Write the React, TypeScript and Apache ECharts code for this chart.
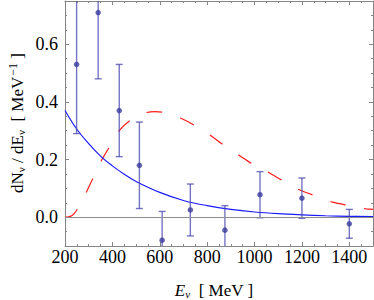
import React, { useEffect, useRef } from "react";
import * as echarts from "echarts";

const xMajor = [200, 400, 600, 800, 1000, 1200, 1400];
const xMinor = [250, 300, 350, 450, 500, 550, 650, 700, 750, 850, 900, 950, 1050, 1100, 1150, 1250, 1300, 1350, 1450];
const yMajor = [0, 0.2, 0.4, 0.6];
const yMinor = [-0.05, 0.05, 0.1, 0.15, 0.25, 0.3, 0.35, 0.45, 0.5, 0.55, 0.65, 0.7];

const dataE = [249, 340, 429, 514, 610, 729, 875, 1023, 1200, 1400];
const dataY = [0.53, 0.71, 0.37, 0.18, -0.08, 0.025, -0.045, 0.078, 0.066, -0.023];
const dataErr = [0.24, 0.23, 0.16, 0.15, 0.1, 0.09, 0.085, 0.08, 0.07, 0.05];

const blueE = [200, 250, 300, 350, 400, 450, 500, 600, 700, 800, 900, 1000, 1100, 1200, 1300, 1400, 1500];
const blueY = [0.37, 0.305, 0.255, 0.212, 0.178, 0.149, 0.124, 0.086, 0.058, 0.04, 0.027, 0.018, 0.012, 0.008, 0.005, 0.003, 0.002];

const redE = [200, 215, 228, 240, 250, 288, 317, 352, 385, 429, 474, 530, 579, 630, 687, 744, 815, 867, 933, 990, 1049, 1119, 1189, 1274, 1330, 1400, 1470, 1500];
const redY = [0.0, 0.001, 0.005, 0.014, 0.025, 0.083, 0.133, 0.194, 0.24, 0.3, 0.335, 0.36, 0.366, 0.362, 0.344, 0.32, 0.283, 0.252, 0.216, 0.185, 0.16, 0.127, 0.095, 0.069, 0.052, 0.04, 0.029, 0.027];

const FONT = "Liberation Serif";
const FRAME = "#858585";

export default function App() {
  const ref = useRef<HTMLDivElement>(null);
  useEffect(() => {
    if (!ref.current) return;
    const chart = echarts.init(ref.current, null, { renderer: "svg" });
    const xRange = { min: 200, max: 1500 };
    const yRange = { min: -0.1, max: 0.75 };
    const isMajorY = (v: number) => yMajor.some((m) => Math.abs(m - v) < 1e-6);
    const mkX = (pos: string, vals: number[], len: number, labels: boolean, line: boolean) => ({
      type: "value",
      position: pos,
      ...xRange,
      interval: 200,
      axisLine: { show: line, onZero: false, lineStyle: { color: FRAME, width: 1 } },
      axisTick: { show: true, inside: true, length: len, customValues: vals, lineStyle: { color: FRAME, width: 1 } },
      axisLabel: labels
        ? { show: true, showMaxLabel: false, color: "#000", fontFamily: FONT, fontSize: 18, margin: 2, formatter: (v: number) => (v >= 1500 ? "" : String(v)) }
        : { show: false },
      splitLine: { show: false },
    });
    const mkY = (pos: string, vals: number[], len: number, labels: boolean, line: boolean) => ({
      type: "value",
      position: pos,
      ...yRange,
      interval: 0.05,
      axisLine: { show: line, onZero: false, lineStyle: { color: FRAME, width: 1 } },
      axisTick: { show: true, inside: true, length: len, customValues: vals, lineStyle: { color: FRAME, width: 1 } },
      axisLabel: labels
        ? { show: true, color: "#000", fontFamily: FONT, fontSize: 18, margin: 7, formatter: (v: number) => (isMajorY(v) ? v.toFixed(1) : "") }
        : { show: false },
      splitLine: { show: false },
    });
    chart.setOption({
      animation: false,
      textStyle: { fontFamily: FONT },
      grid: { left: 65, right: 1, top: 1, bottom: 54, containLabel: false },
      xAxis: [
        mkX("bottom", xMajor, 4, true, true),
        mkX("bottom", xMinor, 2, false, false),
        mkX("top", xMajor, 4, false, true),
        mkX("top", xMinor, 2, false, false),
      ],
      yAxis: [
        mkY("left", yMajor, 4, true, true),
        mkY("left", yMinor, 2, false, false),
        mkY("right", yMajor, 4, false, true),
        mkY("right", yMinor, 2, false, false),
      ],
      graphic: [
        {
          type: "text",
          x: 17,
          y: 123,
          rotation: Math.PI / 2,
          style: {
            text: "{n|dN}{s|ν}{n| / dE}{s|ν}{n|  [ MeV}{u|−1}{n| ]}",
            align: "center",
            verticalAlign: "middle",
            rich: {
              n: { fontFamily: FONT, fontSize: 17, fill: "#000", lineHeight: 22 },
              s: { fontFamily: FONT, fontSize: 11, fill: "#000", lineHeight: 22, padding: [8, 0, 0, 0] },
              u: { fontFamily: FONT, fontSize: 12, fill: "#000", lineHeight: 22, padding: [0, 0, 8, 1] },
            },
          },
        },
        {
          type: "text",
          x: 214,
          y: 290,
          style: {
            text: "{e|E}{s|ν}{n|  [ MeV ]}",
            align: "center",
            verticalAlign: "middle",
            rich: {
              e: { fontFamily: FONT, fontSize: 17, fontStyle: "italic", fill: "#000", lineHeight: 22 },
              n: { fontFamily: FONT, fontSize: 17, fill: "#000", lineHeight: 22 },
              s: { fontFamily: FONT, fontSize: 11, fontStyle: "italic", fill: "#000", lineHeight: 22, padding: [8, 0, 0, 0] },
            },
          },
        },
      ],
      series: [
        {
          type: "line",
          data: redE.map((e, i) => [e, redY[i]]),
          smooth: 0.3,
          showSymbol: false,
          symbol: "none",
          lineStyle: { color: "#ff1a1a", width: 1.2, type: [15.5, 19] },
          z: 2,
        },
        {
          type: "line",
          data: blueE.map((e, i) => [e, blueY[i]]),
          smooth: 0.4,
          showSymbol: false,
          symbol: "none",
          lineStyle: { color: "#1a1aff", width: 1.2 },
          markLine: {
            silent: true,
            symbol: ["none", "none"],
            label: { show: false },
            lineStyle: { color: "#8c8c8c", width: 1, type: "solid" },
            data: [{ yAxis: 0 }],
          },
          z: 3,
        },
        {
          type: "custom",
          data: dataE.map((e, i) => [e, dataY[i], dataErr[i]]),
          encode: { x: 0, y: 1 },
          z: 4,
          renderItem: (params: any, api: any) => {
            const x = api.value(0);
            const y = api.value(1);
            const e = api.value(2);
            const top = api.coord([x, y + e]);
            const bot = api.coord([x, y - e]);
            const cs = params.coordSys;
            const yTop = Math.max(top[1], cs.y);
            const yBot = Math.min(bot[1], cs.y + cs.height);
            const st = { stroke: "rgba(70,70,175,0.75)", lineWidth: 1.4 };
            const children: any[] = [
              { type: "line", shape: { x1: top[0], y1: yTop, x2: top[0], y2: yBot }, style: st },
            ];
            if (top[1] >= cs.y) children.push({ type: "line", shape: { x1: top[0] - 3.5, y1: top[1], x2: top[0] + 3.5, y2: top[1] }, style: st });
            if (bot[1] <= cs.y + cs.height) children.push({ type: "line", shape: { x1: bot[0] - 3.5, y1: bot[1], x2: bot[0] + 3.5, y2: bot[1] }, style: st });
            return { type: "group", children };
          },
        },
        {
          type: "scatter",
          data: dataE.map((e, i) => [e, dataY[i]]),
          symbol: "circle",
          symbolSize: 5.5,
          itemStyle: { color: "#3a3a9c" },
          z: 5,
        },
      ],
    });
    return () => chart.dispose();
  }, []);
  return <div ref={ref} style={{ position: "absolute", left: 0, top: 0, width: 374, height: 300 }} />;
}
